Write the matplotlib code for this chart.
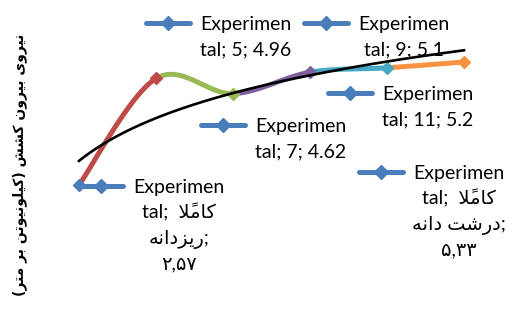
import numpy as np
import matplotlib
matplotlib.use("Agg")
import matplotlib.pyplot as plt
from matplotlib.transforms import Affine2D
from matplotlib.lines import Line2D

# ---------------- data ----------------
categories = ["کاملاً ریزدانه", "5", "7", "9", "11", "کاملاً درشت دانه"]
values = [2.57, 4.96, 4.62, 5.1, 5.2, 5.33]
series_name = "Experimental"
y_label = "نیروی بیرون کشش (کیلونیوتن بر متر)"
point_colors = ["#4A7EBB", "#BE4B48", "#98B954", "#7D60A0", "#46AAC5", "#F69240"]
key_color = "#4A7EBB"

# ---------------- minimal Persian shaper (visual order) ----------------
FORMS = {
    '\u0627': ('\uFE8D', '\uFE8E', None, None),
    '\u0628': ('\uFE8F', '\uFE90', '\uFE91', '\uFE92'),
    '\u062A': ('\uFE95', '\uFE96', '\uFE97', '\uFE98'),
    '\u062F': ('\uFEA9', '\uFEAA', None, None),
    '\u0631': ('\uFEAD', '\uFEAE', None, None),
    '\u0632': ('\uFEAF', '\uFEB0', None, None),
    '\u0634': ('\uFEB5', '\uFEB6', '\uFEB7', '\uFEB8'),
    '\u0644': ('\uFEDD', '\uFEDE', '\uFEDF', '\uFEE0'),
    '\u0645': ('\uFEE1', '\uFEE2', '\uFEE3', '\uFEE4'),
    '\u0646': ('\uFEE5', '\uFEE6', '\uFEE7', '\uFEE8'),
    '\u0647': ('\uFEE9', '\uFEEA', '\uFEEB', '\uFEEC'),
    '\u0648': ('\uFEED', '\uFEEE', None, None),
    '\u06CC': ('\uFBFC', '\uFBFD', '\uFBFE', '\uFBFF'),
    '\u06A9': ('\uFB8E', '\uFB8F', '\uFB90', '\uFB91'),
}
MARKS = {'\u064B'}


def shape(s):
    clusters = []
    for c in s:
        if c in MARKS and clusters:
            clusters[-1][1].append(c)
        else:
            clusters.append([c, []])
    merged = []
    i = 0
    while i < len(clusters):
        b, m = clusters[i]
        if b == '\u0644' and i + 1 < len(clusters) and clusters[i + 1][0] == '\u0627':
            merged.append(['LA', m + clusters[i + 1][1]])
            i += 2
        else:
            merged.append([b, m])
            i += 1

    def dual(b):
        return b in FORMS and FORMS[b][2] is not None

    def joining(b):
        return b in FORMS or b == 'LA'

    out = []
    for k, (b, m) in enumerate(merged):
        prev = merged[k - 1][0] if k > 0 else None
        nxt = merged[k + 1][0] if k + 1 < len(merged) else None
        jp = prev is not None and dual(prev) and joining(b)
        jn = dual(b) and nxt is not None and joining(nxt)
        if b == 'LA':
            g = '\uFEFC' if jp else '\uFEFB'
        elif b in FORMS:
            iso, fin, ini, med = FORMS[b]
            g = med if (jp and jn) else fin if jp else ini if jn else iso
        else:
            g = {'(': ')', ')': '('}.get(b, b)
        out.append(g + ''.join(m))
    return ''.join(reversed(out))


def fa_digits(v):
    s = f"{v:g}".replace('.', ',')
    return s.translate(str.maketrans("0123456789", "۰۱۲۳۴۵۶۷۸۹"))


# ---------------- figure ----------------
W, H = 512, 313
fig = plt.figure(figsize=(W / 100, H / 100), dpi=100)
ax = fig.add_axes([0, 0, 1, 1])
ax.axis('off')
ax.set_xlim(-0.026, 6.623)
ax.set_ylim(-0.302, 6.721)

x = np.arange(1, len(values) + 1, dtype=float)
y = np.array(values, dtype=float)
P = np.column_stack([x, y])

# smoothed (Excel-like Bezier) segments, each coloured by its end point
t = np.linspace(0, 1, 40)[:, None]
n = len(P)
for i in range(n - 1):
    p0 = P[i - 1] if i > 0 else P[i]
    p1, p2 = P[i], P[i + 1]
    p3 = P[i + 2] if i + 2 < n else P[i + 1]
    c1 = p1 + (p2 - p0) / 6
    c2 = p2 - (p3 - p1) / 6
    B = ((1 - t) ** 3) * p1 + 3 * ((1 - t) ** 2) * t * c1 + 3 * (1 - t) * t ** 2 * c2 + t ** 3 * p2
    ax.plot(B[:, 0], B[:, 1], color=point_colors[i + 1], lw=3.6,
            solid_capstyle='round', solid_joinstyle='round', zorder=2)

for xi, yi, c in zip(x, y, point_colors):
    ax.plot([xi], [yi], marker='D', ms=6.5, color=c, mec=c, zorder=3)

# pixel transform (origin top-left)
px = Affine2D().scale(1 / W, -1 / H).translate(0, 1) + fig.transFigure

# data labels (positions: text centre x, first baseline y)
label_pos = [(179, 193), (246, 30), (301, 132), (404, 30), (428, 100), (459, 179)]
fam = ['Lato', 'DejaVu Sans']
fs = 14
line_step = 25.5
for k, (cx, by) in enumerate(label_pos):
    cat = categories[k]
    head, tail = series_name[:9], series_name[9:]
    if cat.isdigit():
        lines = [head, f"{tail}; {cat}; {values[k]:g}"]
    else:
        w1, w2 = cat.split(' ', 1)
        lines = [head, f"{tail};  " + shape(w1), shape(w2) + ";", fa_digits(values[k])]
    for j, ln in enumerate(lines):
        fig.text(cx, by + j * line_step, ln, transform=px, ha='center', va='baseline',
                 fontsize=fs, family=fam, color='black', zorder=4)
    # legend key
    left = cx - 46
    ky = by - 7
    fig.add_artist(Line2D([left - 54, left - 10], [ky, ky], transform=px, color=key_color,
                          lw=3.6, solid_capstyle='round', marker=None, zorder=4))
    fig.add_artist(Line2D([left - 32], [ky], transform=px, color=key_color, marker='D',
                          ms=7, mec=key_color, zorder=5))

# logarithmic trendline
a, b = np.polyfit(np.log(x), y, 1)
xt = np.linspace(x[0], x[-1], 200)
ax.plot(xt, a * np.log(xt) + b, color='black', lw=1.9, zorder=6)

# y-axis title
fig.text(20, 165, shape(y_label), transform=px, rotation=90, ha='center', va='center',
         fontsize=10, family=['DejaVu Sans'], fontweight='bold', color='black')

fig.savefig("out.png", dpi=100)
